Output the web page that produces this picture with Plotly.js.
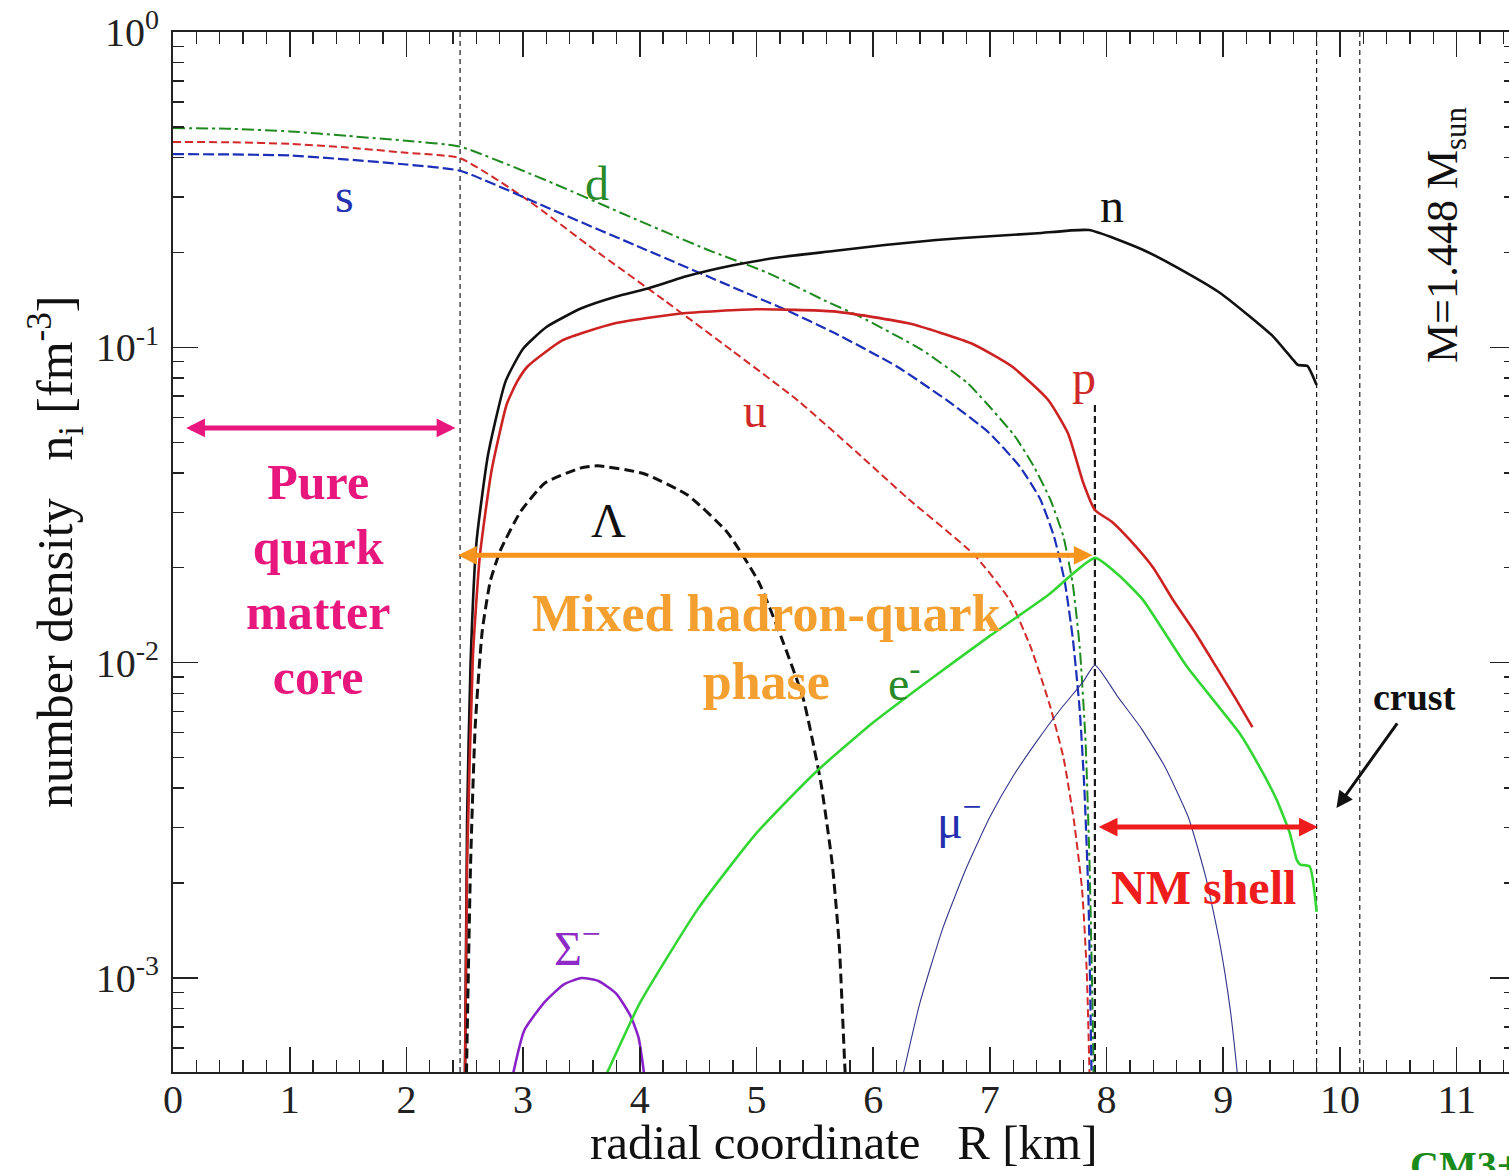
<!DOCTYPE html>
<html>
<head>
<meta charset="utf-8">
<script src="https://cdn.plot.ly/plotly-3.0.1.min.js"></script>
<style>
  html, body { margin: 0; padding: 0; overflow: hidden; background: #fff; }
  #chart { width: 1530px; height: 1170px; }
</style>
</head>
<body>
<div id="chart"></div>
<script>
// Number densities n_i [fm^-3] versus radial coordinate R [km], M = 1.448 M_sun hybrid star

// quarks
const R_d = [0, 0.5, 1.0, 1.5, 2.0, 2.46, 3.26, 3.92, 4.58, 5.10, 5.58, 5.89, 6.42, 6.81, 7.21, 7.38, 7.52, 7.63, 7.71, 7.77, 7.82, 7.855, 7.88, 7.895];
const n_d = [0.496, 0.493, 0.484, 0.468, 0.452, 0.433, 0.331, 0.259, 0.204, 0.172, 0.141, 0.125, 0.098, 0.0769, 0.0525, 0.0417, 0.0328, 0.0251, 0.0178, 0.0112, 0.00562, 0.00224, 0.00079, 0.00032];

const R_u = [0, 0.5, 1.0, 1.5, 2.0, 2.46, 3.04, 3.61, 4.21, 4.79, 5.36, 5.85, 6.30, 6.87, 7.17, 7.35, 7.51, 7.63, 7.72, 7.79, 7.83, 7.86];
const n_u = [0.448, 0.447, 0.442, 0.430, 0.414, 0.398, 0.293, 0.204, 0.141, 0.0977, 0.0676, 0.0468, 0.0331, 0.0219, 0.0158, 0.0112, 0.00741, 0.00501, 0.00316, 0.00191, 0.00105, 0.0004];

const R_s = [0, 0.5, 1.0, 1.5, 2.0, 2.46, 3.26, 4.05, 4.80, 5.24, 5.67, 6.20, 6.64, 6.99, 7.26, 7.43, 7.55, 7.64, 7.71, 7.77, 7.81, 7.845, 7.875];
const n_s = [0.410, 0.409, 0.406, 0.394, 0.380, 0.363, 0.272, 0.204, 0.155, 0.132, 0.111, 0.0871, 0.0676, 0.0537, 0.0417, 0.0331, 0.0251, 0.0182, 0.0120, 0.00708, 0.00398, 0.00178, 0.0004];

// baryons
const R_n = [2.50, 2.52, 2.55, 2.60, 2.70, 2.85, 3.0, 3.2, 3.5, 3.8, 4.05, 4.4, 4.8, 5.2, 5.66, 6.1, 6.54, 7.0, 7.41, 7.85, 8.31, 8.69, 8.97, 9.23, 9.43, 9.60, 9.64, 9.72, 9.80];
const n_n = [0.0004, 0.00316, 0.0100, 0.0240, 0.0457, 0.078, 0.099, 0.116, 0.133, 0.145, 0.153, 0.168, 0.182, 0.193, 0.202, 0.211, 0.219, 0.225, 0.230, 0.2355, 0.204, 0.172, 0.149, 0.125, 0.108, 0.0912, 0.0879, 0.0873, 0.0759];

const R_p = [2.50, 2.52, 2.57, 2.63, 2.73, 2.86, 2.95, 3.04, 3.34, 3.78, 4.35, 5.0, 5.66, 6.31, 6.84, 7.19, 7.5, 7.67, 7.80, 7.9, 8.05, 8.2, 8.4, 8.57, 8.75, 8.94, 9.1, 9.25];
const n_p = [0.0004, 0.00229, 0.0105, 0.0219, 0.0407, 0.0660, 0.0780, 0.0871, 0.1054, 0.119, 0.128, 0.132, 0.130, 0.119, 0.103, 0.0869, 0.0681, 0.0533, 0.0372, 0.0305, 0.0279, 0.0245, 0.0200, 0.0158, 0.0126, 0.0097, 0.00776, 0.00625];

const R_Lambda = [2.51, 2.55, 2.59, 2.65, 2.72, 2.81, 2.98, 3.19, 3.49, 3.64, 4.03, 4.41, 4.75, 5.02, 5.21, 5.40, 5.55, 5.65, 5.71, 5.76, 5.78];
const n_Lambda = [0.0004, 0.00229, 0.00631, 0.0126, 0.0182, 0.0229, 0.0302, 0.0372, 0.0414, 0.0421, 0.0398, 0.0340, 0.0259, 0.0180, 0.0121, 0.00771, 0.0042, 0.00229, 0.00126, 0.0005, 0.0004];

const R_Sigma = [2.86, 3.01, 3.19, 3.35, 3.50, 3.65, 3.80, 3.92, 3.99, 4.07];
const n_Sigma = [0.0004, 0.000682, 0.000843, 0.000955, 0.0010, 0.000977, 0.000891, 0.000759, 0.000646, 0.0004];

// leptons
const R_e = [3.59, 3.72, 4.0, 4.5, 5.0, 5.5, 6.0, 6.5, 7.0, 7.5, 7.90, 8.10, 8.31, 8.69, 9.14, 9.31, 9.46, 9.57, 9.63, 9.66, 9.74, 9.80];
const n_e = [0.0004, 0.000501, 0.000832, 0.00166, 0.00288, 0.00447, 0.00646, 0.00891, 0.01216, 0.0164, 0.0215, 0.0190, 0.01585, 0.0097, 0.00597, 0.00468, 0.00366, 0.00288, 0.00237, 0.00229, 0.00226, 0.00162];

const R_mu = [6.20, 6.40, 6.60, 6.80, 7.00, 7.20, 7.40, 7.60, 7.80, 7.90, 8.10, 8.30, 8.50, 8.70, 8.85, 8.97, 9.06, 9.12, 9.15];
const n_mu = [0.0004, 0.000832, 0.00145, 0.00224, 0.00324, 0.00437, 0.00562, 0.00708, 0.00871, 0.00982, 0.00776, 0.00617, 0.00468, 0.00324, 0.00209, 0.00129, 0.000794, 0.000501, 0.00038];

// phase boundaries [km]: quark core, mixed phase, nuclear-matter shell, crust
const R_core = 2.46, R_mixed = 7.9, R_shell = 9.8, R_crust = 10.17;

const xTickVals = [0, 1, 2, 3, 4, 5, 6, 7, 8, 9, 10, 11];
const yTickVals = [1e-3, 1e-2, 1e-1, 1];
const yTickText = ['10<sup>-3</sup>', '10<sup>-2</sup>', '10<sup>-1</sup>', '10<sup>0</sup>'];

const SERIF = 'Liberation Serif, Times New Roman, serif';
const lg = Math.log10;
const yMin = 1e-3 / Math.pow(10, 0.298);

// minor ticks 2..9 of each decade
const yMinor = [];
[1e-4, 1e-3, 1e-2, 1e-1].forEach(dec => { for (let k = 2; k <= 9; k++) yMinor.push(k * dec); });

function curve(x, y, color, width, dash) {
  return { x, y, type: 'scatter', mode: 'lines', hoverinfo: 'skip',
           line: { color, width, dash, shape: 'spline', smoothing: 0.5 } };
}
function vline(r, yTop, width, dash) {
  return { x: [r, r], y: [yTop, yMin / 2], type: 'scatter', mode: 'lines', hoverinfo: 'skip',
           line: { color: '#1a1a1a', width, dash } };
}

const traces = [
  vline(R_core, 1, 1.2, '5px,4px'),
  vline(R_shell, 1, 1.2, '5px,4px'),
  vline(R_crust, 1, 1.2, '5px,4px'),
  vline(R_mixed, 0.0656, 2.2, '7px,4px'),
  curve(R_d, n_d, '#1f8a1f', 2, '12px,4px,3px,4px'),
  curve(R_u, n_u, '#d22a2a', 2, '8px,4px'),
  curve(R_s, n_s, '#1c2fb8', 2.2, '11px,4px'),
  curve(R_n, n_n, '#111111', 2.6, 'solid'),
  curve(R_p, n_p, '#cc2222', 2.6, 'solid'),
  curve(R_Lambda, n_Lambda, '#111111', 3, '10px,5px'),
  curve(R_Sigma, n_Sigma, '#8a22c8', 2.6, 'solid'),
  curve(R_e, n_e, '#33d633', 2.6, 'solid'),
  curve(R_mu, n_mu, '#34348a', 1.1, 'solid')
];

function label(text, x, y, color, size, extra) {
  return Object.assign({ text, x, y: lg(y), xref: 'x', yref: 'y', showarrow: false,
    font: { family: SERIF, size: size || 48, color } }, extra || {});
}
function span(x0, x1, y, color, width) {
  return { x: x1, y: lg(y), ax: x0, ay: lg(y), xref: 'x', yref: 'y', axref: 'x', ayref: 'y',
    text: '', showarrow: true, arrowside: 'end+start', arrowhead: 2, startarrowhead: 2,
    arrowsize: 0.75, startarrowsize: 0.75, arrowwidth: width, arrowcolor: color,
    standoff: 0, startstandoff: 0 };
}

const annotations = [
  label('s', 1.47, 0.304, '#2432b0'),
  label('d', 3.63, 0.332, '#2a8a2a'),
  label('n', 8.05, 0.282, '#111111'),
  label('u', 4.99, 0.0632, '#d02828'),
  label('p', 7.81, 0.080, '#d02828'),
  label('\u039b', 3.73, 0.0283, '#111111'),
  label('e<sup>-</sup>', 6.27, 0.0088, '#2a8a2a'),
  label('\u03bc<sup>\u2212</sup>', 6.74, 0.00321, '#2230b0'),
  label('\u03a3<sup>\u2212</sup>', 3.47, 0.00127, '#8e2bc6'),

  label('<b>Pure<br>quark<br>matter<br>core</b>', 1.24, 0.0183, '#e8177d', 50),
  label('<b>Mixed hadron-quark<br>phase</b>', 5.09, 0.0112, '#f4a030', 52),
  label('<b>NM shell</b>', 8.83, 0.00193, '#ee1c1c', 48),
  label('<b>crust</b>', 10.64, 0.00778, '#111111', 38),
  label('M=1.448 M<sub>sun</sub>', 10.90, 0.227, '#111111', 44, { textangle: -90 }),

  span(0.10, 2.42, 0.0555, '#e8177d', 5),
  span(2.43, 7.88, 0.0219, '#f7941d', 5),
  span(7.92, 9.81, 0.00301, '#ee1c1c', 5),
  { x: 9.97, y: lg(0.00346), ax: 10.50, ay: lg(0.00649), xref: 'x', yref: 'y', axref: 'x', ayref: 'y',
    text: '', showarrow: true, arrowhead: 2, arrowsize: 1.1, arrowwidth: 3, arrowcolor: '#111111', standoff: 0 },

  { text: 'radial coordinate\u00a0\u00a0\u00a0R [km]', xref: 'paper', yref: 'paper', x: 0.5, y: -0.0675,
    xanchor: 'center', yanchor: 'middle', showarrow: false, font: { family: SERIF, size: 49, color: '#111' } },
  { text: 'number density\u00a0\u00a0\u00a0n<sub>i</sub> [fm<sup>-3</sup>]', xref: 'paper', yref: 'paper',
    x: -0.0879, y: 0.5, xanchor: 'center', yanchor: 'middle', textangle: -90, showarrow: false,
    font: { family: SERIF, size: 50, color: '#111' } },
  { text: '<b>CM3+</b>', xref: 'paper', yref: 'paper', x: 0.9203, y: -0.0663, xanchor: 'left', yanchor: 'top',
    showarrow: false, font: { family: SERIF, size: 40, color: '#1a8a1a' } }
];

const axisCommon = {
  showline: true, linewidth: 2, linecolor: '#222', mirror: 'allticks',
  ticks: 'inside', ticklen: 25, tickwidth: 1.6, tickcolor: '#222',
  showgrid: false, zeroline: false,
  tickfont: { family: SERIF, size: 40, color: '#222' }
};

const layout = {
  width: 1530, height: 1170,
  margin: { l: 173, r: 15, t: 32, b: 98 },
  paper_bgcolor: '#ffffff', plot_bgcolor: '#ffffff',
  showlegend: false,
  xaxis: Object.assign({}, axisCommon, {
    range: [0, 11.5], tickmode: 'array', tickvals: xTickVals,
    minor: { dtick: 0.2, tick0: 0, ticks: 'inside', ticklen: 12, tickwidth: 1.4, tickcolor: '#222' },
    ticklabelstandoff: -9
  }),
  yaxis: Object.assign({}, axisCommon, {
    type: 'log', range: [lg(yMin), 0], tickmode: 'array', tickvals: yTickVals, ticktext: yTickText,
    minor: { tickmode: 'array', tickvals: yMinor, ticks: 'inside', ticklen: 11, tickwidth: 1.4, tickcolor: '#222' },
    ticklabelstandoff: 4
  }),
  annotations
};

Plotly.newPlot('chart', traces, layout, { staticPlot: true, displayModeBar: false });
</script>
</body>
</html>
